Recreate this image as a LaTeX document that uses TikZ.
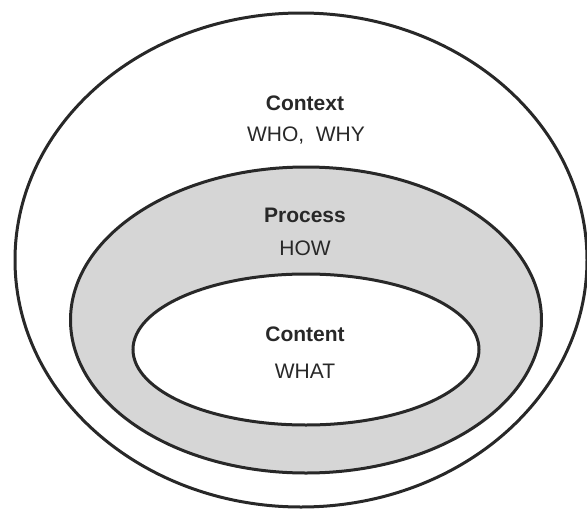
\documentclass[tikz,border=0pt]{standalone}
\usepackage{fontspec}
\setmainfont{Liberation Sans}
\usetikzlibrary{shapes.geometric}
\definecolor{ringgray}{RGB}{214,214,214}
\definecolor{inkgray}{RGB}{40,40,40}
\begin{document}
\begin{tikzpicture}[x=1pt,y=-1pt,
  ring/.style={ellipse, draw=inkgray, line width=3pt, inner sep=0pt},
  title/.style={font=\fontsize{21}{25}\selectfont\bfseries, text=inkgray},
  sub/.style={font=\fontsize{21}{25}\selectfont, text=inkgray}]
  \useasboundingbox (0,0) rectangle (587,509);
  % three nested layers
  \node[ring, fill=white, minimum width=572pt, minimum height=494pt] (context) at (301,260) {};
  \node[ring, fill=ringgray, minimum width=471pt, minimum height=306pt] (process) at (306,320) {};
  \node[ring, fill=white, minimum width=346pt, minimum height=151pt] (content) at (306,349.5) {};
  % labels
  \node[title] (ctxt) at (305,103) {Context};
  \node[sub] (ctxq) at (306,136) {WHO,\ \ WHY};
  \node[title] (proct) at (305,215) {Process};
  \node[sub] (procq) at (305,248) {HOW};
  \node[title] (contt) at (305,334) {Content};
  \node[sub] (contq) at (305,371) {WHAT};
\end{tikzpicture}
\end{document}
